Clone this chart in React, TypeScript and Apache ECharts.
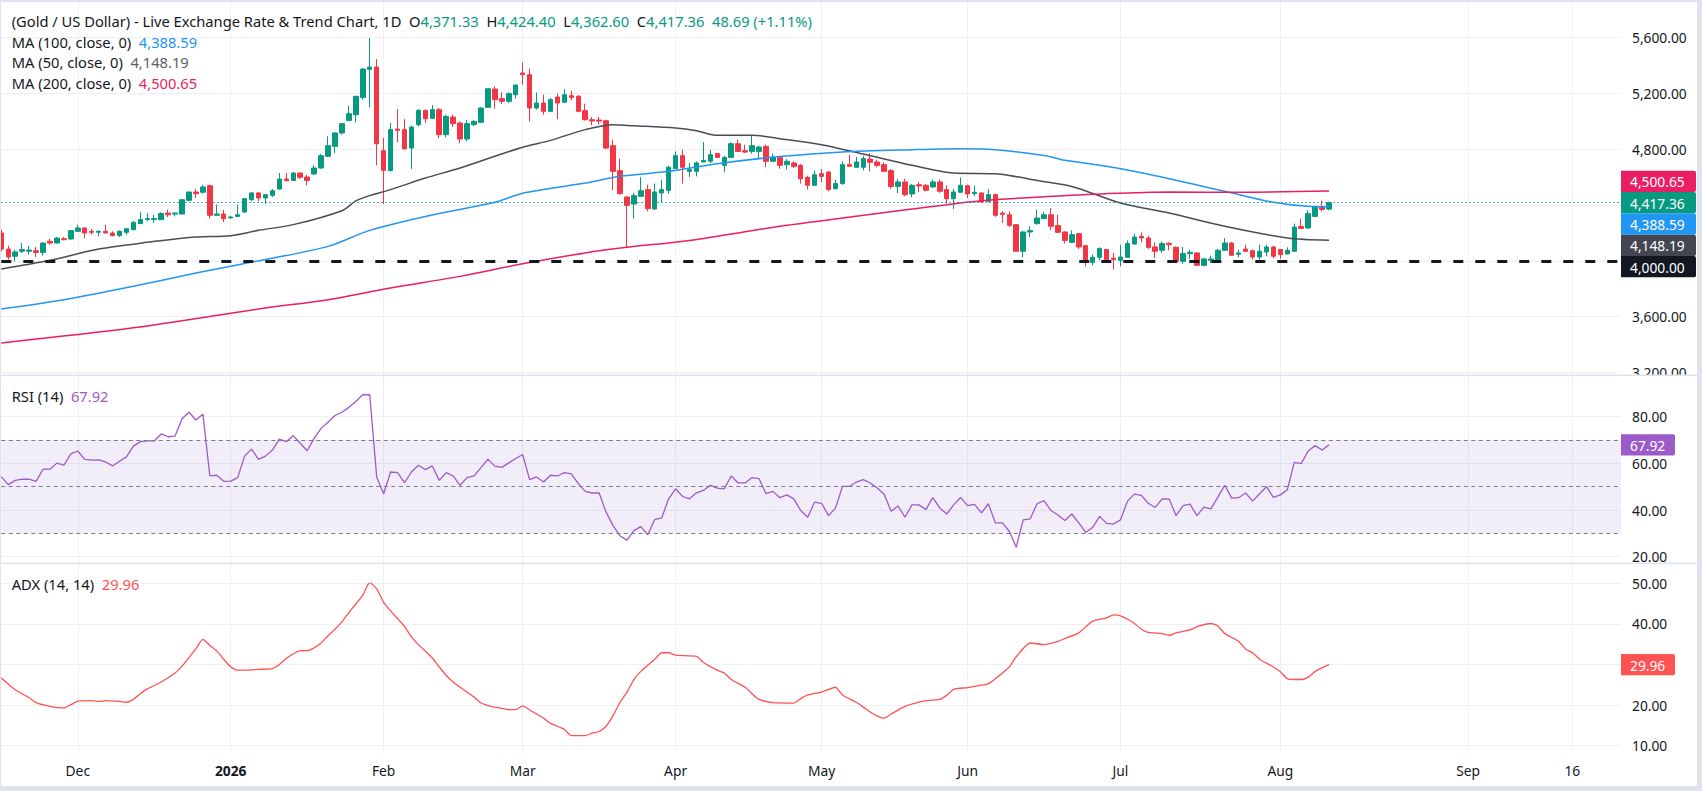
import React, { useEffect, useRef } from "react";
import * as echarts from "echarts";

// ---------- calendar / axis ----------
const START_DATE = "2025-11-14";
const LAST_BAR_DATE = "2026-08-12";
const AXIS_END_DATE = "2026-09-23";
const HOLIDAYS = ["2025-12-25", "2026-04-03"];

const TIME_TICKS: { date: string; label: string; bold?: boolean }[] = [
  { date: "2025-12-01", label: "Dec" },
  { date: "2026-01-01", label: "2026", bold: true },
  { date: "2026-02-02", label: "Feb" },
  { date: "2026-03-02", label: "Mar" },
  { date: "2026-04-01", label: "Apr" },
  { date: "2026-05-01", label: "May" },
  { date: "2026-06-01", label: "Jun" },
  { date: "2026-07-01", label: "Jul" },
  { date: "2026-08-03", label: "Aug" },
  { date: "2026-09-01", label: "Sep" },
  { date: "2026-09-16", label: "16" },
];

// ---------- price: [open, high, low, close] per trading day ----------
const OHLC: number[][] = [
  [4200, 4224, 4069, 4085], [4085, 4109, 4009, 4028], [4033, 4081, 3997, 4064], [4069, 4128, 4057, 4081],
  [4069, 4109, 4045, 4078], [4073, 4100, 4028, 4061], [4061, 4133, 4038, 4128], [4140, 4157, 4116, 4128],
  [4128, 4171, 4124, 4164], [4159, 4171, 4147, 4152], [4157, 4219, 4152, 4217], [4212, 4260, 4207, 4236],
  [4236, 4241, 4162, 4200], [4212, 4229, 4188, 4205], [4205, 4219, 4176, 4212], [4212, 4260, 4198, 4200],
  [4200, 4212, 4176, 4181], [4181, 4219, 4171, 4212], [4205, 4236, 4188, 4231], [4224, 4284, 4219, 4277],
  [4267, 4351, 4265, 4296], [4296, 4343, 4284, 4303], [4296, 4331, 4272, 4303], [4296, 4348, 4294, 4339],
  [4343, 4367, 4315, 4331], [4336, 4348, 4319, 4343], [4336, 4441, 4331, 4439], [4434, 4496, 4427, 4494],
  [4494, 4515, 4451, 4482], [4492, 4546, 4482, 4530], [4539, 4546, 4303, 4327], [4327, 4403, 4325, 4336],
  [4336, 4367, 4279, 4303], [4308, 4320, 4305, 4315], [4319, 4403, 4315, 4331], [4351, 4451, 4343, 4446],
  [4439, 4494, 4427, 4487], [4487, 4494, 4427, 4451], [4451, 4477, 4410, 4475], [4470, 4515, 4458, 4503],
  [4515, 4630, 4511, 4587], [4587, 4630, 4570, 4575], [4577, 4635, 4573, 4630], [4630, 4633, 4587, 4599],
  [4601, 4618, 4542, 4577], [4623, 4685, 4618, 4666], [4666, 4766, 4661, 4754], [4750, 4893, 4745, 4826],
  [4821, 4924, 4773, 4917], [4917, 4988, 4905, 4984], [5007, 5113, 5003, 5055], [5048, 5184, 4993, 5180],
  [5172, 5383, 5156, 5375], [5373, 5598, 5101, 5390], [5390, 5447, 4685, 4840], [4790, 4881, 4408, 4649],
  [4647, 4988, 4642, 4941], [4945, 5089, 4850, 4936], [4941, 5017, 4797, 4804], [4809, 4969, 4659, 4960],
  [4976, 5089, 4965, 5079], [5079, 5084, 4988, 5019], [5022, 5117, 5019, 5084], [5084, 5096, 4878, 4905],
  [4905, 5048, 4886, 5036], [5031, 5048, 4960, 4984], [4988, 5000, 4843, 4874], [4874, 5012, 4857, 4984],
  [4976, 5012, 4965, 5000], [4993, 5101, 4988, 5096], [5101, 5236, 5096, 5234], [5232, 5251, 5091, 5156],
  [5163, 5208, 5125, 5144], [5144, 5208, 5132, 5199], [5191, 5263, 5163, 5261], [5347, 5423, 5263, 5335],
  [5335, 5378, 5000, 5096], [5096, 5208, 5084, 5132], [5132, 5191, 5048, 5072], [5072, 5168, 5065, 5156],
  [5175, 5199, 5017, 5132], [5137, 5232, 5132, 5191], [5184, 5220, 5151, 5172], [5180, 5189, 5065, 5072],
  [5077, 5127, 5005, 5012], [5012, 5031, 4972, 5003], [5010, 5031, 4976, 5002], [5005, 5012, 4802, 4809],
  [4826, 4869, 4506, 4642], [4647, 4733, 4475, 4482], [4458, 4463, 4093, 4398], [4408, 4487, 4303, 4468],
  [4463, 4601, 4458, 4503], [4511, 4546, 4355, 4374], [4372, 4554, 4367, 4494], [4487, 4582, 4420, 4511],
  [4506, 4683, 4482, 4671], [4661, 4785, 4661, 4754], [4754, 4797, 4554, 4671], [4642, 4702, 4601, 4654],
  [4642, 4714, 4606, 4702], [4709, 4852, 4707, 4719], [4714, 4797, 4702, 4761], [4769, 4773, 4738, 4742],
  [4685, 4754, 4635, 4742], [4742, 4850, 4742, 4840], [4840, 4869, 4785, 4785], [4790, 4833, 4773, 4780],
  [4785, 4898, 4769, 4826], [4785, 4826, 4733, 4816], [4821, 4833, 4671, 4714], [4714, 4769, 4709, 4742],
  [4742, 4754, 4661, 4685], [4690, 4730, 4654, 4714], [4702, 4714, 4666, 4678], [4685, 4695, 4554, 4589],
  [4599, 4611, 4511, 4542], [4542, 4647, 4539, 4618], [4625, 4659, 4563, 4606], [4637, 4642, 4499, 4511],
  [4518, 4582, 4511, 4554], [4554, 4714, 4546, 4690], [4690, 4761, 4678, 4678], [4671, 4745, 4666, 4709],
  [4671, 4754, 4649, 4733], [4730, 4773, 4642, 4707], [4709, 4726, 4671, 4685], [4690, 4707, 4635, 4642],
  [4647, 4659, 4518, 4534], [4534, 4587, 4487, 4566], [4566, 4589, 4463, 4475], [4480, 4551, 4456, 4542],
  [4546, 4566, 4494, 4537], [4542, 4551, 4499, 4506], [4530, 4582, 4523, 4566], [4566, 4582, 4487, 4499],
  [4511, 4542, 4410, 4446], [4446, 4515, 4372, 4494], [4492, 4599, 4487, 4542], [4539, 4546, 4451, 4480],
  [4482, 4539, 4463, 4492], [4487, 4492, 4415, 4422], [4427, 4515, 4420, 4475], [4475, 4482, 4315, 4327],
  [4343, 4355, 4272, 4334], [4331, 4355, 4243, 4255], [4260, 4263, 4067, 4069], [4069, 4217, 4026, 4207],
  [4207, 4248, 4171, 4217], [4267, 4367, 4260, 4307], [4303, 4351, 4301, 4331], [4331, 4379, 4219, 4248],
  [4253, 4331, 4200, 4205], [4207, 4212, 4124, 4147], [4133, 4219, 4128, 4188], [4195, 4198, 4085, 4100],
  [4109, 4116, 3961, 3997], [3990, 4045, 3968, 4026], [4026, 4097, 4005, 4088], [4081, 4085, 3997, 4009],
  [4019, 4057, 3937, 4009], [4004, 4116, 3961, 4028], [4026, 4147, 4021, 4124], [4121, 4195, 4116, 4171],
  [4176, 4205, 4133, 4164], [4164, 4181, 4085, 4097], [4100, 4133, 4021, 4069], [4076, 4140, 4057, 4124],
  [4126, 4133, 4076, 4116], [4097, 4104, 3990, 3997], [3997, 4100, 3980, 4052], [4052, 4081, 4014, 4062],
  [4057, 4062, 3966, 3968], [3968, 4021, 3961, 4014], [4004, 4038, 3985, 4014], [4009, 4085, 4004, 4076],
  [4076, 4164, 4071, 4128], [4128, 4136, 4038, 4040], [4047, 4081, 4026, 4057], [4085, 4116, 4064, 4069],
  [4073, 4081, 4009, 4028], [4028, 4116, 3997, 4069], [4064, 4116, 4033, 4100], [4100, 4109, 4021, 4033],
  [4081, 4085, 4016, 4045], [4050, 4097, 4045, 4076], [4069, 4267, 4067, 4243], [4248, 4303, 4229, 4233],
  [4236, 4363, 4229, 4339], [4319, 4391, 4315, 4386], [4386, 4432, 4355, 4368.67], [4371.33, 4424.4, 4362.6, 4417.36],
];

// ---------- moving averages, read as [bar number, value] ----------
const MA50: number[][] = [
  [0, 3942], [7, 4004], [14, 4085], [21, 4133], [28, 4171], [33, 4181], [37, 4219], [42, 4260],
  [49, 4360], [51, 4430], [53, 4468], [56, 4511], [61, 4594], [66, 4666], [71, 4750], [75, 4815],
  [79, 4864], [84, 4941], [88, 4976], [91, 4969], [97, 4953], [100, 4933], [103, 4900], [108, 4900],
  [112, 4876], [118, 4833], [124, 4766], [131, 4685], [137, 4630], [143, 4625], [145, 4613], [149, 4577],
  [154, 4534], [161, 4415], [168, 4343], [176, 4248], [185, 4164], [191, 4148.19],
];
const MA100: number[][] = [
  [0, 3655], [9, 3722], [19, 3818], [28, 3913], [38, 4010], [47, 4104], [53, 4219], [61, 4319],
  [71, 4420], [75, 4485], [84, 4558], [89, 4606], [96, 4642], [103, 4697], [112, 4748], [121, 4781],
  [131, 4797], [138, 4804], [143, 4797], [150, 4755], [153, 4721], [159, 4678], [166, 4611], [176, 4499],
  [183, 4420], [188, 4391], [191, 4388.59],
];
const MA200: number[][] = [
  [0, 3412], [19, 3520], [38, 3662], [47, 3722], [56, 3806], [66, 3889], [75, 3979], [84, 4057],
  [90, 4097], [99, 4147], [112, 4248], [121, 4307], [131, 4372], [141, 4432], [150, 4460], [159, 4482],
  [168, 4494], [178, 4492], [191, 4500.65],
];

// ---------- RSI (14), one value per trading day ----------
const RSI: number[] = [
  54.2, 50.9, 52.7, 53.2, 53.2, 52.3, 57.5, 57.5, 60.1, 59.2, 64.1, 65.3, 61.7, 61.4, 61.5, 60.6,
  58.9, 60.9, 62.8, 67.4, 69.3, 69.6, 69.6, 72.6, 71.4, 71.7, 79.1, 81.9, 78.6, 81.1, 54.6, 54.9,
  52.3, 52.4, 53.9, 63.1, 66.1, 61.7, 63.1, 65.7, 70.4, 69.3, 71.9, 68.6, 65.4, 70.7, 75.0, 77.6,
  80.5, 81.9, 84.0, 86.5, 89.4, 89.4, 54.2, 47.0, 56.3, 56.0, 51.7, 56.3, 59.2, 57.3, 58.9, 52.7,
  56.0, 54.6, 50.6, 53.9, 54.6, 58.2, 61.8, 58.8, 58.3, 60.2, 62.1, 63.8, 53.0, 54.2, 52.0, 54.9,
  54.6, 56.0, 55.5, 51.3, 48.0, 47.3, 47.3, 39.1, 33.3, 29.0, 27.1, 31.2, 32.9, 29.4, 35.9, 36.6,
  44.8, 49.1, 45.8, 44.8, 47.4, 48.4, 50.6, 49.4, 49.1, 54.6, 51.6, 51.6, 53.9, 53.5, 47.0, 48.0,
  45.3, 46.5, 44.8, 39.8, 36.9, 43.4, 42.9, 37.6, 40.8, 50.1, 50.1, 52.0, 53.0, 51.6, 49.4, 46.8,
  39.5, 41.7, 36.9, 42.2, 42.2, 40.2, 45.3, 40.9, 38.3, 42.2, 45.4, 41.9, 42.4, 38.8, 42.7, 34.5,
  34.5, 30.9, 24.0, 35.8, 36.2, 42.7, 44.0, 39.8, 37.9, 35.5, 38.3, 34.5, 30.4, 32.6, 37.3, 34.3,
  34.0, 35.8, 43.8, 46.8, 46.3, 42.9, 41.1, 44.8, 44.7, 37.6, 41.9, 42.5, 37.6, 41.2, 40.5, 45.5,
  50.6, 45.1, 45.3, 47.3, 43.8, 47.0, 50.0, 45.4, 46.5, 48.7, 60.4, 59.9, 65.3, 67.6, 65.7, 67.92,
];
const RSI_LEVELS = [70, 50, 30];

// ---------- ADX (14, 14), read as [bar number, value] ----------
const ADX: number[][] = [
  [0, 26.7], [2, 23.8], [4, 21.8], [5, 20.6], [7, 19.7], [9, 19.3], [10, 20.1], [11, 21.0], [13, 21.1],
  [14, 20.9], [15, 21.1], [17, 20.9], [18, 20.7], [19, 21.4], [20, 22.8], [21, 24.0], [23, 25.7], [25, 27.9],
  [26, 29.6], [27, 31.7], [28, 33.9], [29, 36.2], [30, 34.7], [31, 33.3], [32, 31.3], [33, 29.4], [34, 28.6],
  [35, 28.6], [37, 28.8], [39, 29.0], [40, 30.0], [41, 31.5], [43, 33.4], [44, 33.4], [45, 34.1], [46, 35.3],
  [47, 37.1], [48, 38.7], [49, 40.5], [50, 42.8], [51, 44.9], [52, 47.1], [53, 50.2], [54, 48.6], [55, 45.3],
  [56, 43.2], [57, 41.3], [58, 39.4], [59, 36.8], [60, 34.9], [61, 33.3], [62, 31.6], [63, 29.4], [64, 27.3],
  [65, 25.7], [66, 24.4], [67, 23.2], [68, 22.0], [69, 20.5], [70, 19.9], [71, 19.5], [72, 19.2], [73, 18.9],
  [74, 18.9], [75, 19.8], [76, 18.8], [77, 17.8], [78, 16.8], [79, 15.5], [81, 14.0], [82, 12.5], [84, 12.5],
  [85, 13.1], [86, 13.5], [87, 14.8], [88, 17.4], [89, 20.7], [90, 23.2], [91, 26.3], [92, 28.3], [94, 31.3],
  [95, 32.9], [96, 32.9], [97, 32.3], [100, 32.0], [101, 30.5], [103, 28.6], [104, 27.9], [105, 26.3],
  [107, 24.4], [108, 22.8], [109, 21.4], [111, 20.6], [114, 20.5], [115, 21.6], [116, 22.5], [118, 23.2],
  [120, 24.4], [121, 22.5], [123, 20.7], [124, 19.5], [125, 18.3], [126, 17.3], [127, 16.8], [128, 17.8],
  [130, 19.7], [133, 21.1], [135, 21.4], [136, 22.4], [137, 23.9], [139, 24.3], [140, 24.6], [142, 25.3],
  [143, 26.5], [145, 29.4], [146, 31.9], [148, 35.3], [150, 34.9], [152, 35.7], [153, 36.4], [155, 37.8],
  [157, 40.7], [159, 41.5], [160, 42.2], [161, 42.0], [162, 41.2], [163, 40.1], [164, 38.7], [165, 37.9],
  [167, 37.6], [168, 37.2], [169, 37.8], [171, 38.5], [172, 39.3], [174, 40.1], [175, 39.5], [176, 37.6],
  [178, 35.7], [179, 33.8], [180, 32.9], [181, 31.3], [183, 29.4], [184, 28.2], [185, 26.5], [186, 26.3],
  [187, 26.3], [188, 26.9], [189, 28.3], [191, 29.96],
];

// ---------- colours ----------
const UP = "#089981";
const DOWN = "#f23645";
const C_MA50 = "#4a4d57";
const C_MA100 = "#2196f3";
const C_MA200 = "#e91e63";
const C_RSI = "#9c5bc8";
const C_ADX = "#ff5252";
const TEXT = "#131722";
const GRID = "#eef0f4";
const FONT = "'Noto Sans', sans-serif";
const FS_AXIS = 13.8;
const FS_LEGEND = 14.7;

const fmt = (v: number) =>
  v.toLocaleString("en-US", { minimumFractionDigits: 2, maximumFractionDigits: 2 });

function buildCategories(): string[] {
  const out: string[] = [];
  const d = new Date(START_DATE + "T00:00:00Z");
  const last = new Date(LAST_BAR_DATE + "T00:00:00Z");
  const end = new Date(AXIS_END_DATE + "T00:00:00Z");
  while (d <= end) {
    const iso = d.toISOString().slice(0, 10);
    const dow = d.getUTCDay();
    if (d > last || (dow !== 0 && dow !== 6 && !HOLIDAYS.includes(iso))) out.push(iso);
    d.setUTCDate(d.getUTCDate() + 1);
  }
  return out;
}

export default function App() {
  const ref = useRef<HTMLDivElement>(null);

  useEffect(() => {
    document.body.style.margin = "0";
    if (!ref.current) return;
    const chart = echarts.init(ref.current, null, { renderer: "svg" });

    const cats = buildCategories();
    const tickMap: Record<string, { label: string; bold?: boolean }> = {};
    TIME_TICKS.forEach((t) => (tickMap[t.date] = t));
    const isTick = (_i: number, v: string) => !!tickMap[v];

    const W = 1702;
    const PLOT_L = 1.3;
    const PLOT_R = 1621;
    const gridR = W - PLOT_R;
    const TAG_H = 21.3;

    const candleData = OHLC.map(([o, h, l, c]) => [o, c, l, h]);
    const last = OHLC[OHLC.length - 1];
    const prevClose = OHLC[OHLC.length - 2][3];
    const chg = last[3] - prevClose;
    const chgPct = (chg / prevClose) * 100;

    const hiddenX = (gi: number) => ({
      type: "category",
      gridIndex: gi,
      data: cats,
      boundaryGap: false,
      show: false,
    });

    // tag centres per y axis, filled in after the first layout pass
    const tagYs: number[][] = [[], [], []];
    let yPix: (axis: number, v: number) => number = () => NaN;

    const yCommon = (gi: number, min: number, max: number, interval: number) => ({
      type: "value",
      gridIndex: gi,
      position: "right",
      min,
      max,
      interval,
      z: 0,
      axisLine: { show: false },
      axisTick: { show: false },
      axisLabel: {
        color: TEXT,
        fontFamily: FONT,
        fontSize: FS_AXIS,
        margin: 11,
        align: "left",
        formatter: (v: number) => {
          const py = yPix(gi, v);
          if (tagYs[gi].some((ty) => Math.abs(ty - py) < TAG_H / 2 + 7)) return "";
          return fmt(v);
        },
      },
      splitLine: { lineStyle: { color: GRID, width: 1 } },
    });

    const option: any = {
      animation: false,
      backgroundColor: "#ffffff",
      grid: [
        { left: PLOT_L, right: gridR, top: 37.7, height: 334.8 },
        { left: PLOT_L, right: gridR, top: 416.7, height: 140 },
        { left: PLOT_L, right: gridR, top: 583.3, height: 162.4 },
        { left: PLOT_L, right: gridR, top: 2, height: 750 },
      ],
      xAxis: [
        hiddenX(0),
        hiddenX(1),
        hiddenX(2),
        {
          type: "category",
          gridIndex: 3,
          data: cats,
          boundaryGap: false,
          axisLine: { show: false },
          axisTick: { show: false },
          axisLabel: {
            interval: isTick,
            margin: 11,
            color: TEXT,
            fontFamily: FONT,
            fontSize: FS_AXIS,
            formatter: (v: string) => {
              const t = tickMap[v];
              if (!t) return "";
              return t.bold ? `{b|${t.label}}` : t.label;
            },
            rich: { b: { fontWeight: "bold", fontFamily: FONT, fontSize: FS_AXIS, color: TEXT } },
          },
          splitLine: { show: true, interval: isTick, lineStyle: { color: GRID, width: 1 } },
        },
      ],
      yAxis: [
        yCommon(0, 3200, 5600, 400),
        yCommon(1, 20, 80, 20),
        yCommon(2, 10, 50, 10),
        { type: "value", gridIndex: 3, show: false, min: 0, max: 1 },
      ],
      series: [
        {
          type: "candlestick",
          name: "XAUUSD",
          xAxisIndex: 0,
          yAxisIndex: 0,
          data: candleData,
          barWidth: 5,
          z: 2,
          itemStyle: { color: UP, color0: DOWN, borderColor: UP, borderColor0: DOWN, borderWidth: 1 },
          markLine: {
            silent: true,
            symbol: ["none", "none"],
            label: { show: false },
            data: [
              { yAxis: last[3], lineStyle: { color: UP, width: 1, type: [1.5, 2.5] } },
              { yAxis: 4000, lineStyle: { color: TEXT, width: 3, type: [10, 12] } },
            ],
          },
        },
        {
          type: "line", name: "MA 50", xAxisIndex: 0, yAxisIndex: 0, data: MA50, smooth: 0.3,
          showSymbol: false, z: 3, lineStyle: { color: C_MA50, width: 1.5 },
        },
        {
          type: "line", name: "MA 100", xAxisIndex: 0, yAxisIndex: 0, data: MA100, smooth: 0.3,
          showSymbol: false, z: 3, lineStyle: { color: C_MA100, width: 1.5 },
        },
        {
          type: "line", name: "MA 200", xAxisIndex: 0, yAxisIndex: 0, data: MA200, smooth: 0.3,
          showSymbol: false, z: 3, lineStyle: { color: C_MA200, width: 1.5 },
        },
        {
          type: "line", name: "RSI", xAxisIndex: 1, yAxisIndex: 1, data: RSI, clip: false,
          showSymbol: false, z: 3, lineStyle: { color: C_RSI, width: 1.3 },
          markArea: {
            silent: true,
            itemStyle: { color: "rgba(126,87,194,0.1)" },
            data: [[{ yAxis: RSI_LEVELS[2] }, { yAxis: RSI_LEVELS[0] }]],
          },
          markLine: {
            silent: true,
            symbol: ["none", "none"],
            label: { show: false },
            lineStyle: { color: "#787b86", width: 1, type: [4, 3.5] },
            data: RSI_LEVELS.map((v) => ({ yAxis: v })),
          },
        },
        {
          type: "line", name: "ADX", xAxisIndex: 2, yAxisIndex: 2, data: ADX, smooth: 0.2,
          showSymbol: false, z: 3, lineStyle: { color: C_ADX, width: 1.3 },
        },
      ],
    };

    chart.setOption(option);

    // ---------- overlay texts and price tags ----------
    yPix = (axis: number, v: number) => chart.convertToPixel({ yAxisIndex: axis } as any, v) as number;

    const priceTags = [
      { v: MA200[MA200.length - 1][1], color: C_MA200 },
      { v: last[3], color: UP, anchor: true },
      { v: MA100[MA100.length - 1][1], color: C_MA100 },
      { v: MA50[MA50.length - 1][1], color: "#434651" },
      { v: 4000, color: TEXT },
    ].map((t) => ({ ...t, y: yPix(0, t.v) }));
    priceTags.sort((a, b) => a.y - b.y);
    const ai = priceTags.findIndex((t: any) => t.anchor);
    for (let i = ai + 1; i < priceTags.length; i++)
      priceTags[i].y = Math.max(priceTags[i].y, priceTags[i - 1].y + TAG_H);
    for (let i = ai - 1; i >= 0; i--)
      priceTags[i].y = Math.min(priceTags[i].y, priceTags[i + 1].y - TAG_H);

    const lastRSI = RSI[RSI.length - 1];
    const lastADX = ADX[ADX.length - 1][1];
    const rsiY = yPix(1, lastRSI);
    const adxY = yPix(2, lastADX);
    tagYs[0] = priceTags.map((t) => t.y);
    tagYs[1] = [rsiY];
    tagYs[2] = [adxY];

    const tagEls = (y: number, text: string, color: string, w: number) => [
      {
        type: "rect",
        z: 200,
        shape: { x: PLOT_R, y: y - TAG_H / 2, width: w, height: TAG_H, r: [0, 2, 2, 0] },
        style: { fill: color },
      },
      {
        type: "text",
        z: 201,
        x: PLOT_R + 9,
        y: y + 0.5,
        style: {
          text, fill: "#ffffff", fontFamily: FONT, fontSize: FS_AXIS,
          align: "left", verticalAlign: "middle", textAlign: "left", textVerticalAlign: "middle",
        },
      },
    ];

    const txt = (x: number, y: number, text: string, rich: any) => ({
      type: "text",
      x,
      y,
      z: 130,
      style: {
        text,
        fontFamily: FONT,
        fontSize: FS_LEGEND,
        fill: TEXT,
        align: "left",
        verticalAlign: "middle",
        textAlign: "left",
        textVerticalAlign: "middle",
        rich,
      },
    });
    const rs = (fill: string) => ({ fill, color: fill, fontFamily: FONT, fontSize: FS_LEGEND });
    const rich = { d: rs(TEXT), g: rs(UP), b: rs(C_MA100), k: rs("#5d606b"), r: rs(C_MA200), p: rs(C_RSI), a: rs(C_ADX) };

    const lastMA50 = MA50[MA50.length - 1][1];
    const lastMA100 = MA100[MA100.length - 1][1];
    const lastMA200 = MA200[MA200.length - 1][1];

    const title =
      `{d|(Gold / US Dollar) - Live Exchange Rate & Trend Chart, 1D  O}{g|${fmt(last[0])}}` +
      `{d|  H}{g|${fmt(last[1])}}{d|  L}{g|${fmt(last[2])}}{d|  C}{g|${fmt(last[3])}}` +
      `{g|  ${fmt(chg)} (+${chgPct.toFixed(2)}%)}`;

    const border = "#e0e3eb";
    const graphics: any[] = [
      // frame
      { type: "rect", z: 140, shape: { x: 0, y: 0, width: W, height: 2 }, style: { fill: border } },
      { type: "rect", z: 140, shape: { x: 0, y: 786, width: W, height: 5 }, style: { fill: border } },
      { type: "rect", z: 140, shape: { x: 1697, y: 0, width: 5, height: 791 }, style: { fill: border } },
      { type: "rect", z: 140, shape: { x: 0, y: 0, width: 1, height: 791 }, style: { fill: border } },
      // clip price-scale label under the pane separator
      { type: "rect", z: 110, shape: { x: PLOT_R + 1, y: 375.5, width: 75, height: 20 }, style: { fill: "#ffffff" } },
      // pane separators
      { type: "rect", z: 111, shape: { x: 0, y: 374.5, width: 1697, height: 1.5 }, style: { fill: border } },
      { type: "rect", z: 111, shape: { x: 0, y: 562.5, width: 1697, height: 1.5 }, style: { fill: border } },
      // legends
      txt(11.7, 21, title, rich),
      txt(11.7, 41.7, `{d|MA (100, close, 0)  }{b|${fmt(lastMA100)}}`, rich),
      txt(11.7, 62.2, `{d|MA (50, close, 0)  }{k|${fmt(lastMA50)}}`, rich),
      txt(11.7, 82.7, `{d|MA (200, close, 0)  }{r|${fmt(lastMA200)}}`, rich),
      txt(11.7, 396, `{d|RSI (14)  }{p|${fmt(lastRSI)}}`, rich),
      txt(11.7, 584, `{d|ADX (14, 14)  }{a|${fmt(lastADX)}}`, rich),
      // tags
      ...priceTags.flatMap((t) => tagEls(t.y, fmt(t.v), t.color, 75)),
      ...tagEls(rsiY, fmt(lastRSI), C_RSI, 54),
      ...tagEls(adxY, fmt(lastADX), C_ADX, 54),
    ];

    // re-apply the y axes so their labels drop values hidden behind tags, then draw overlays
    chart.setOption({
      yAxis: [
        yCommon(0, 3200, 5600, 400),
        yCommon(1, 20, 80, 20),
        yCommon(2, 10, 50, 10),
        { type: "value", gridIndex: 3, show: false, min: 0, max: 1 },
      ],
      graphic: graphics,
    });

    return () => chart.dispose();
  }, []);

  return <div ref={ref} style={{ width: 1702, height: 791, background: "#ffffff" }} />;
}
